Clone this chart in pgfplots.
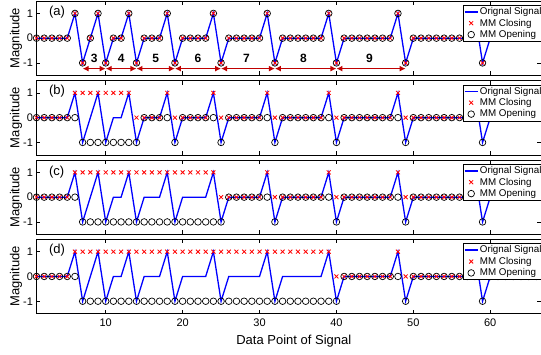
\documentclass[border=0pt]{standalone}
\usepackage{pgfplots}
\pgfplotsset{compat=1.18}
\usepackage{pgfplotstable}
\usepackage{fontspec}
\setmainfont{Liberation Sans}
\usetikzlibrary{arrows.meta}
\definecolor{arr}{RGB}{192,0,0}

\pgfplotstableread{
x s cb ob cc oc cd od
1 0 0 0 0 0 0 0
2 0 0 0 0 0 0 0
3 0 0 0 0 0 0 0
4 0 0 0 0 0 0 0
5 0 0 0 0 0 0 0
6 1 1 0 1 0 1 0
7 -1 1 -1 1 -1 1 -1
8 0 1 -1 1 -1 1 -1
9 1 1 -1 1 -1 1 -1
10 -1 1 -1 1 -1 1 -1
11 0 1 -1 1 -1 1 -1
12 0 1 -1 1 -1 1 -1
13 1 1 -1 1 -1 1 -1
14 -1 0 -1 1 -1 1 -1
15 0 0 0 1 -1 1 -1
16 0 0 0 1 -1 1 -1
17 0 0 0 1 -1 1 -1
18 1 1 0 1 -1 1 -1
19 -1 0 -1 1 -1 1 -1
20 0 0 0 1 -1 1 -1
21 0 0 0 1 -1 1 -1
22 0 0 0 1 -1 1 -1
23 0 0 0 1 -1 1 -1
24 1 1 0 1 -1 1 -1
25 -1 0 -1 0 -1 1 -1
26 0 0 0 0 0 1 -1
27 0 0 0 0 0 1 -1
28 0 0 0 0 0 1 -1
29 0 0 0 0 0 1 -1
30 0 0 0 0 0 1 -1
31 1 1 0 1 0 1 -1
32 -1 0 -1 0 -1 1 -1
33 0 0 0 0 0 1 -1
34 0 0 0 0 0 1 -1
35 0 0 0 0 0 1 -1
36 0 0 0 0 0 1 -1
37 0 0 0 0 0 1 -1
38 0 0 0 0 0 1 -1
39 1 1 0 1 0 1 -1
40 -1 0 -1 0 -1 0 -1
41 0 0 0 0 0 0 0
42 0 0 0 0 0 0 0
43 0 0 0 0 0 0 0
44 0 0 0 0 0 0 0
45 0 0 0 0 0 0 0
46 0 0 0 0 0 0 0
47 0 0 0 0 0 0 0
48 1 1 0 1 0 1 0
49 -1 0 -1 0 -1 0 -1
50 0 0 0 0 0 0 0
51 0 0 0 0 0 0 0
52 0 0 0 0 0 0 0
53 0 0 0 0 0 0 0
54 0 0 0 0 0 0 0
55 0 0 0 0 0 0 0
56 0 0 0 0 0 0 0
57 0 0 0 0 0 0 0
58 1 1 0 1 0 1 0
59 -1 0 -1 0 -1 0 -1
60 0 0 0 0 0 0 0
61 0 0 0 0 0 0 0
62 0 0 0 0 0 0 0
63 0 0 0 0 0 0 0
64 0 0 0 0 0 0 0
65 0 0 0 0 0 0 0
66 0 0 0 0 0 0 0
}\data

\tikzset{
  plab/.style={anchor=west, inner sep=0pt, font=\fontsize{13}{15}\selectfont},
  num/.style={font=\fontsize{12}{14}\selectfont\bfseries},
  gap/.style={arr, line width=1.6pt, {Latex[length=6pt,width=6pt]}-{Latex[length=6pt,width=6pt]}},
}
\pgfplotsset{
  panel/.style={
    scale only axis, width=504.5pt, height=74.3pt,
    anchor=north west,
    xmin=1, xmax=66.6, ymin=-1.5, ymax=1.5,
    xtick={10,20,30,40,50,60}, ytick={-1,0,1},
    tick align=inside, major tick length=4pt,
    tick style={black, line width=0.5pt},
    axis line style={black, line width=0.6pt},
    clip=false,
    /pgf/number format/assume math mode=true,
    ticklabel style={font=\fontsize{11}{13}\selectfont},
    xticklabel style={yshift=-2pt},
    ylabel={Magnitude},
    ylabel style={at={(axis description cs:-0.0337,0.5)}, anchor=base, font=\fontsize{13}{15}\selectfont, inner sep=0pt},
    legend style={at={(rel axis cs:0.846,0.946)}, anchor=north west, draw=black, fill=white,
      font=\fontsize{9.8}{11}\selectfont, inner xsep=0.5pt, inner ysep=1.3pt, row sep=0.8pt,
      nodes={inner xsep=1pt, inner ysep=1pt}},
    legend cell align=left,
  },
  sig/.style={blue, line width=1.3pt, no markers,
    legend image code/.code={\draw[blue, line width=1.4pt] (0.5pt,0pt) -- (14pt,0pt);}},
  clo/.style={only marks, mark=x, red, mark size=2.8pt, line width=0.8pt,
    legend image code/.code={\path[draw=none, fill=none] (0pt,-2pt) rectangle (14pt,2pt); \draw[##1] plot coordinates {(7pt,0pt)};}},
  ope/.style={only marks, mark=o, black, mark size=3.3pt, line width=0.7pt,
    legend image code/.code={\path[draw=none, fill=none] (0pt,-2pt) rectangle (14pt,2pt); \draw[##1] plot coordinates {(7pt,0pt)};}},
}

\begin{document}
\begin{tikzpicture}
% (a)
\begin{axis}[panel, at={(36.5pt,-1pt)}, xticklabels={}]
\addplot[sig] table[x=x,y=s]{\data};
\addplot[clo] table[x=x,y=s]{\data};
\addplot[ope] table[x=x,y=s]{\data};
\legend{Orignal Signal, MM Closing, MM Opening}
\node[plab] at (axis cs:2.6,1.04) {(a)};
\draw[gap] (axis cs:7,-1.23) -- (axis cs:10,-1.23);
\draw[gap] (axis cs:10,-1.23) -- (axis cs:14,-1.23);
\draw[gap] (axis cs:14,-1.23) -- (axis cs:19,-1.23);
\draw[gap] (axis cs:19,-1.23) -- (axis cs:25,-1.23);
\draw[gap] (axis cs:25,-1.23) -- (axis cs:32,-1.23);
\draw[gap] (axis cs:32,-1.23) -- (axis cs:40,-1.23);
\draw[gap] (axis cs:40,-1.23) -- (axis cs:49,-1.23);
\node[num] at (axis cs:8.5,-0.8) {3};
\node[num] at (axis cs:12,-0.8) {4};
\node[num] at (axis cs:16.5,-0.8) {5};
\node[num] at (axis cs:22,-0.8) {6};
\node[num] at (axis cs:28.3,-0.8) {7};
\node[num] at (axis cs:35.7,-0.8) {8};
\node[num] at (axis cs:44.3,-0.8) {9};
\end{axis}
% (b)
\begin{axis}[panel, at={(36.5pt,-80.5pt)}, xticklabels={}]
\addplot[sig] table[x=x,y=s]{\data};
\addplot[clo] table[x=x,y=cb]{\data};
\addplot[ope] table[x=x,y=ob]{\data};
\legend{Orignal Signal, MM Closing, MM Opening}
\node[plab] at (axis cs:2.6,1.08) {(b)};
\end{axis}
% (c)
\begin{axis}[panel, at={(36.5pt,-160pt)}, xticklabels={}]
\addplot[sig] table[x=x,y=s]{\data};
\addplot[clo] table[x=x,y=cc]{\data};
\addplot[ope] table[x=x,y=oc]{\data};
\legend{Orignal Signal, MM Closing, MM Opening}
\node[plab] at (axis cs:2.6,1.0) {(c)};
\end{axis}
% (d)
\begin{axis}[panel, at={(36.5pt,-239.3pt)},
  xlabel={Data Point of Signal},
  xlabel style={at={(axis description cs:0.51,0)}, anchor=base, yshift=-30.7pt, font=\fontsize{13}{15}\selectfont, inner sep=0pt}]
\addplot[sig] table[x=x,y=s]{\data};
\addplot[clo] table[x=x,y=cd]{\data};
\addplot[ope] table[x=x,y=od]{\data};
\legend{Orignal Signal, MM Closing, MM Opening}
\node[plab] at (axis cs:2.6,1.05) {(d)};
\end{axis}
\pgfresetboundingbox
\path[use as bounding box] (0pt,0pt) rectangle (541pt,-354pt);
\end{tikzpicture}
\end{document}
